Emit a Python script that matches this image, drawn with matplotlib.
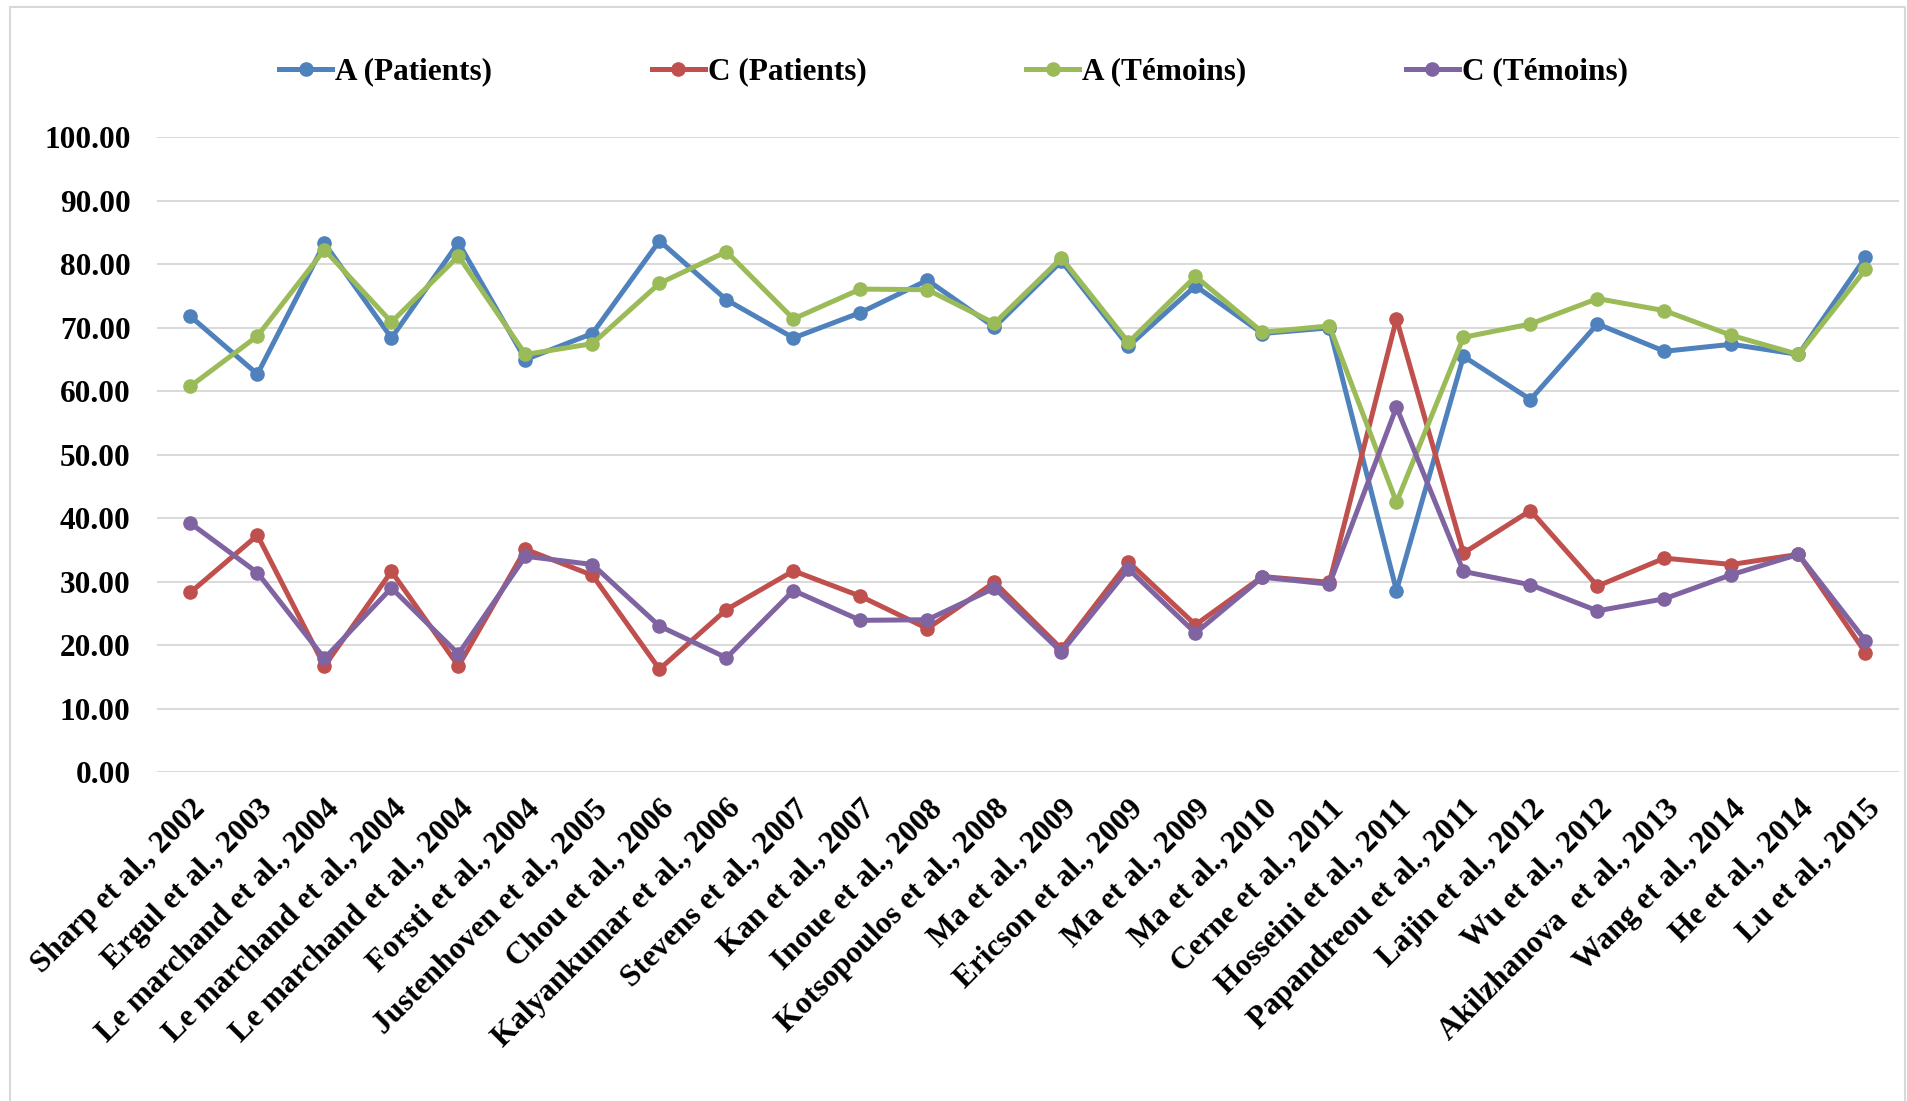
import matplotlib
matplotlib.use('Agg')
import matplotlib.pyplot as plt
from matplotlib.patches import Rectangle

plt.rcParams['font.family'] = ['Liberation Serif', 'DejaVu Serif']
plt.rcParams['font.weight'] = 'bold'

# études et fréquences alléliques (%)
etudes = ['Sharp et al., 2002', 'Ergul et al., 2003', 'Le marchand et al., 2004',
          'Le marchand et al., 2004', 'Le marchand et al., 2004', 'Forsti et al., 2004',
          'Justenhoven et al., 2005', 'Chou et al., 2006', 'Kalyankumar et al., 2006',
          'Stevens et al., 2007', 'Kan et al., 2007', 'Inoue et al., 2008',
          'Kotsopoulos et al., 2008', 'Ma et al., 2009', 'Ericson et al., 2009',
          'Ma et al., 2009', 'Ma et al., 2010', 'Cerne et al., 2011',
          'Hosseini et al., 2011', 'Papandreou et al., 2011', 'Lajin et al., 2012',
          'Wu et al., 2012', 'Akilzhanova  et al., 2013', 'Wang et al., 2014',
          'He et al., 2014', 'Lu et al., 2015']

a_patients = [71.8, 62.7, 83.3, 68.4, 83.4, 65.0, 69.1, 83.7, 74.4, 68.4, 72.4, 77.5, 70.1,
              80.5, 67.1, 76.6, 69.1, 70.0, 28.6, 65.5, 58.7, 70.6, 66.3, 67.4, 65.8, 81.1]
c_patients = [28.3, 37.3, 16.7, 31.6, 16.7, 35.1, 31.0, 16.2, 25.6, 31.7, 27.7, 22.6, 29.9,
              19.4, 33.1, 23.2, 30.8, 29.9, 71.4, 34.5, 41.2, 29.3, 33.7, 32.7, 34.3, 18.8]
a_temoins = [60.8, 68.7, 82.3, 70.9, 81.3, 65.8, 67.5, 77.0, 82.0, 71.4, 76.1, 76.0, 70.7,
             81.0, 67.7, 78.1, 69.3, 70.3, 42.5, 68.5, 70.6, 74.6, 72.7, 68.8, 65.8, 79.2]
c_temoins = [39.2, 31.4, 17.9, 29.0, 18.6, 34.0, 32.7, 23.0, 18.0, 28.6, 23.9, 24.0, 29.0,
             18.9, 32.0, 21.9, 30.7, 29.6, 57.5, 31.6, 29.5, 25.4, 27.3, 31.1, 34.3, 20.7]

series = [('A (Patients)', a_patients, '#4F81BD'),
          ('C (Patients)', c_patients, '#C0504D'),
          ('A (Témoins)', a_temoins, '#9BBB59'),
          ('C (Témoins)', c_temoins, '#8064A2')]

fig = plt.figure(figsize=(19.07, 11.01), dpi=100)
ax = fig.add_axes([0.0823, 0.2988, 0.9135, 0.5764])

x = list(range(len(etudes)))
for nom, vals, col in series:
    ax.plot(x, vals, color=col, lw=3.6, marker='o', ms=9.5, label=nom, zorder=3)

ax.set_ylim(0, 100)
ax.set_xlim(-0.5, len(etudes) - 0.5)
ax.set_yticks(range(0, 101, 10))
ax.set_yticklabels([f'{v:.2f}' for v in range(0, 101, 10)], fontsize=22.5, fontweight='bold')
ax.set_xticks(x)
ax.set_xticklabels(etudes, rotation=45, ha='right', rotation_mode='anchor',
                   fontsize=22.5, fontweight='bold')
ax.tick_params(axis='y', length=0, pad=19)
ax.tick_params(axis='x', length=0, pad=16)
ax.grid(axis='y', color='#D9D9D9', lw=1.4, zorder=0)
for s in ax.spines.values():
    s.set_visible(False)

fig.legend(loc='center', bbox_to_anchor=(0.5, 1 - 72 / 1101), ncol=4, frameon=False,
           prop={'size': 22.5, 'weight': 'bold'}, handlelength=1.7, handletextpad=0.1,
           columnspacing=5.1)

# cadre gris du graphique
fig.patches.append(Rectangle((10 / 1907, -0.05), 1895 / 1907, 1.05 - 7 / 1101,
                             transform=fig.transFigure, fill=False,
                             edgecolor='#D9D9D9', lw=1.5))

fig.savefig('out.png', dpi=100)
